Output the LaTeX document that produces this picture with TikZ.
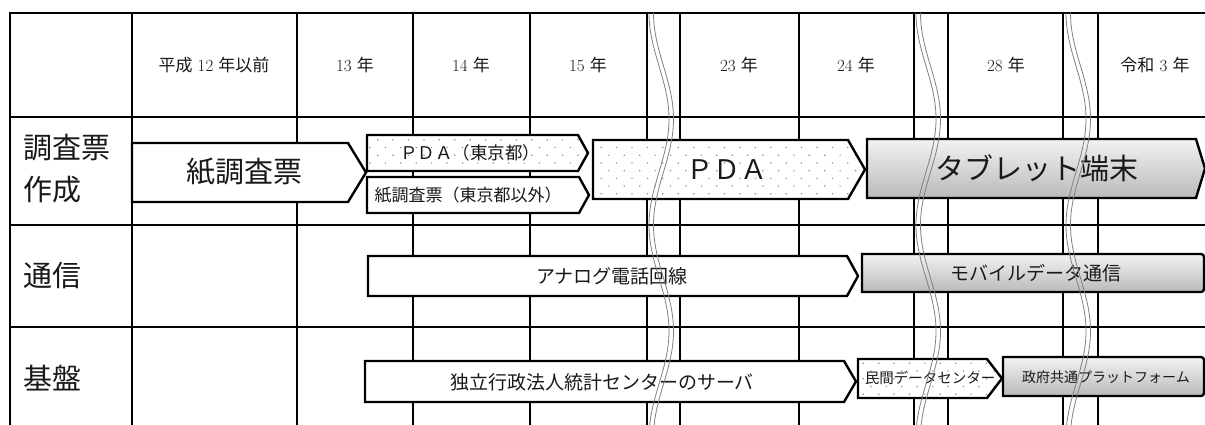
\documentclass[tikz,border=0pt]{standalone}
\usepackage{fontspec}
\newfontfamily\jp{Noto Sans CJK JP}
\usetikzlibrary{patterns.meta}
\tikzset{
  gridline/.style={line width=1.9pt, black},
  box/.style={line width=2.4pt, black, line join=miter},
  plainbox/.style={box, fill=white},
  dotbox/.style={box, preaction={fill=white}, pattern={Dots[distance=10.9pt,angle=45,radius=0.85pt]}, pattern color=black!45},
  greybox/.style={box, top color=black!5, bottom color=black!27},
  wave/.style={gray, line width=0.8pt},
  lbl/.style={inner sep=0pt, text=black!90},
  hdr/.style={lbl, font=\fontsize{17}{20}\selectfont},
  rowlbl/.style={lbl, anchor=west, font=\fontsize{29}{32}\selectfont\jp},
}
\newcommand\hplate[6]{\draw[#1] (#2,#3) -- (#5,#3) -- (#6,{(#3+#4)/2}) -- (#5,#4) -- (#2,#4) -- cycle;}
\newcommand\rbox[5]{\draw[#1] (#2,#3) -- ({#4-4},#3) [rounded corners=3pt] -- (#4,#3) -- (#4,#5) [sharp corners] -- ({#4-4},#5) -- (#2,#5) -- cycle;}
\begin{document}
\begin{tikzpicture}[x=1pt,y=-1pt]
\useasboundingbox (0,0) rectangle (1205,425);
\fill[white] (0,0) rectangle (1205,425);
% grid
\foreach \yy in {13,117,225,327}{\draw[gridline] (9,\yy) -- (1210,\yy);}
\foreach \xx in {10,132,297,413,530,647,680,799,914,948,1063,1098}{\draw[gridline] (\xx,12) -- (\xx,430);}
% header texts
\node[hdr] (h12) at (214,65) {{\jp 平成} 12 {\jp 年以前}};
\node[hdr] (h13) at (355,65) {13 {\jp 年}};
\node[hdr] (h14) at (471,65) {14 {\jp 年}};
\node[hdr] (h15) at (588,65) {15 {\jp 年}};
\node[hdr] (h23) at (739,65) {23 {\jp 年}};
\node[hdr] (h24) at (856,65) {24 {\jp 年}};
\node[hdr] (h28) at (1006,65) {28 {\jp 年}};
\node[hdr] (hr3) at (1155,65) {{\jp 令和} 3 {\jp 年}};
% row labels
\node[rowlbl] (r1a) at (23,148) {調査票};
\node[rowlbl] (r1b) at (23,190) {作成};
\node[rowlbl] (r2) at (23,276) {通信};
\node[rowlbl] (r3) at (23,378) {基盤};
% row 1 shapes
\hplate{plainbox}{132}{143}{202}{348}{366}
\hplate{dotbox}{367}{135}{171}{578}{588}
\hplate{plainbox}{367}{177}{213}{579}{589}
\hplate{dotbox}{593}{140}{199}{848}{865}
\hplate{greybox}{867}{139}{198}{1196}{1205}
% row 2 shapes
\hplate{plainbox}{368}{256}{296}{847}{858}
\rbox{greybox}{862}{254}{1204}{292}
% row 3 shapes
\hplate{plainbox}{365}{361}{402}{844}{856}
\hplate{dotbox}{858}{359}{398}{987}{1002}
\rbox{greybox}{1003}{357}{1204}{396}
% texts in shapes
\node[lbl, font=\fontsize{29}{32}\selectfont\jp] (paper) at (244,172) {紙調査票};
\node[lbl, font=\fontsize{17.5}{20}\selectfont\jp] (pdatokyo) at (470,153) {ＰＤＡ（東京都）};
\node[lbl, font=\fontsize{17}{20}\selectfont\jp] (papero) at (468,195) {紙調査票（東京都以外）};
\node[lbl, font=\fontsize{27}{30}\selectfont\jp] (pda) at (727,170) {ＰＤＡ};
\node[lbl, font=\fontsize{29}{32}\selectfont\jp] (tab) at (1037,168) {タブレット端末};
\node[lbl, font=\fontsize{19}{22}\selectfont\jp] (analog) at (612,276) {アナログ電話回線};
\node[lbl, font=\fontsize{19}{22}\selectfont\jp] (mobile) at (1036,273) {モバイルデータ通信};
\node[lbl, font=\fontsize{19}{22}\selectfont\jp] (nstac) at (602,382) {独立行政法人統計センターのサーバ};
\node[lbl, font=\fontsize{14.5}{17}\selectfont\jp] (private) at (930,378) {民間データセンター};
\node[lbl, font=\fontsize{14}{17}\selectfont\jp] (gov) at (1106,377) {政府共通プラットフォーム};
% break marks
\foreach \o in {0,267,417}{
  \foreach \d in {0,4.5}{
    \draw[wave] plot[domain=13:425, samples=120, variable=\t] ({659+\o+\d-10*cos(1.69811*(\t-13))},\t);
  }
}
\end{tikzpicture}
\end{document}
